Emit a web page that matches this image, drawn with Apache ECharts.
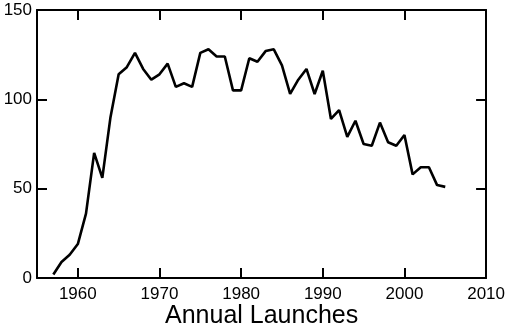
<!DOCTYPE html>
<html>
<head>
<meta charset="utf-8">
<script src="https://cdn.jsdelivr.net/npm/echarts@6/dist/echarts.min.js"></script>
<style>html,body{margin:0;padding:0;background:#fff}#c{width:508px;height:326px}</style>
</head>
<body>
<div id="c"></div>
<script>
var years = [1957,1958,1959,1960,1961,1962,1963,1964,1965,1966,1967,1968,1969,1970,1971,1972,1973,1974,1975,1976,1977,1978,1979,1980,1981,1982,1983,1984,1985,1986,1987,1988,1989,1990,1991,1992,1993,1994,1995,1996,1997,1998,1999,2000,2001,2002,2003,2004,2005];
var launches = [2,9,13,19,36,70,56,90,114,118,126,117,111,114,120,107,109,107,126,128,124,124,105,105,123,121,127,128,119,103,111,117,103,116,89,94,79,88,75,74,87,76,74,80,58,62,62,52,51];
var xTicks = [1960,1970,1980,1990,2000,2010];
var yTicks = [0,50,100,150];
var xTitle = 'Annual Launches';

var font = 'Liberation Sans';
var chart = echarts.init(document.getElementById('c'), null, {renderer:'canvas'});
function axisLine(){ return {show:true, onZero:false, lineStyle:{color:'#000', width:2}}; }
function tick(vals){ return {show:true, inside:true, length:10, customValues:vals, lineStyle:{color:'#000', width:2}}; }
chart.setOption({
  animation:false,
  backgroundColor:'#fff',
  grid:{left:37, right:21, top:10, bottom:48, containLabel:false},
  title:{text:xTitle, left:160, top:299, textStyle:{fontFamily:font, fontSize:25, fontWeight:'normal', color:'#000'}},
  xAxis:[{
    type:'value', min:1955, max:2010, position:'bottom',
    axisLine:axisLine(),
    axisTick:tick(xTicks),
    axisLabel:{customValues:xTicks, color:'#000', fontFamily:font, fontSize:17, margin:8, formatter:function(v){return String(v);}},
    splitLine:{show:false}
  },{
    type:'value', min:1955, max:2010, position:'top',
    axisLine:axisLine(),
    axisTick:tick(xTicks),
    axisLabel:{show:false},
    splitLine:{show:false}
  }],
  yAxis:[{
    type:'value', min:0, max:150, position:'left',
    axisLine:axisLine(), axisTick:tick(yTicks),
    axisLabel:{customValues:yTicks, color:'#000', fontFamily:font, fontSize:17, margin:5, formatter:function(v){return String(v);}},
    splitLine:{show:false}
  },{
    type:'value', min:0, max:150, position:'right',
    axisLine:axisLine(), axisTick:tick(yTicks),
    axisLabel:{show:false},
    splitLine:{show:false}
  }],
  series:[{
    type:'line',
    data:years.map(function(y,i){return [y, launches[i]];}),
    showSymbol:false, symbol:'none',
    lineStyle:{color:'#000', width:2.6},
    itemStyle:{color:'#000'}
  }]
});
</script>
</body>
</html>
